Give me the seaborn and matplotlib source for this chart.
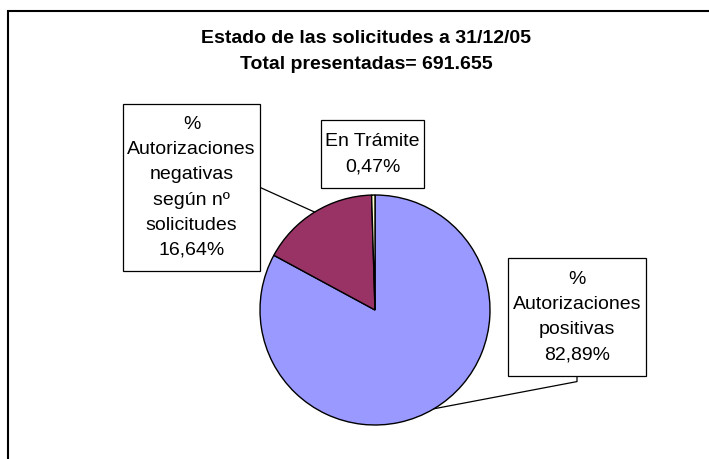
import numpy as np
import seaborn as sns
import matplotlib.pyplot as plt
from matplotlib.patches import Rectangle

# data
categories = ['%\nAutorizaciones\npositivas', '%\nAutorizaciones\nnegativas\nsegún nº\nsolicitudes', 'En Trámite']
shares = [82.89, 16.64, 0.47]
colors = ['#9999FF', '#993366', '#FFFFCC']
title = 'Estado de las solicitudes a 31/12/05\nTotal presentadas= 691.655'

sns.set_theme(style='white')
plt.rcParams['font.family'] = ['Liberation Sans', 'DejaVu Sans']

W, H = 709, 459
fig = plt.figure(figsize=(W / 100, H / 100), dpi=100)
fig.patch.set_facecolor('white')

# pie centre (375, 310) px, radius 115 px
cx, cy, r = 375, 310, 115
ax = fig.add_axes([(cx - r) / W, (H - cy - r) / H, 2 * r / W, 2 * r / H])
wedges, _ = ax.pie(shares, colors=colors, startangle=90, counterclock=False,
                   wedgeprops=dict(edgecolor='black', linewidth=1))
ax.set_xlim(-1, 1)
ax.set_ylim(-1, 1)
ax.set_aspect('equal')
ax.axis('off')

fig.text(366 / W, 1 - 51.5 / H, title, ha='center', va='center', fontsize=14,
         fontweight='bold', linespacing=1.73, color='black')

def px(x, y):
    # pixel position in the picture -> pie units
    return (x - cx) / r, (cy - y) / r

# box centre in px, leader start on the box (relpos), leader on/off
boxes = [((577, 317), (0.5, 0.0), True),
         ((191.5, 187.5), (1.0, 0.5), True),
         ((372.5, 154), (0.5, 0.0), False)]

texts = []
for cat, val, (c, rel, leader) in zip(categories, shares, boxes):
    label = cat + '\n' + f'{val:.2f}'.replace('.', ',') + '%'
    t = ax.text(*px(*c), label, ha='center', va='center', fontsize=14,
                linespacing=1.62, color='black', zorder=5, clip_on=False)
    texts.append(t)

fig.canvas.draw()
rend = fig.canvas.get_renderer()
inv = ax.transData.inverted()
padx, pady = 4.5, 12.5
for w, t, (c, rel, leader) in zip(wedges, texts, boxes):
    bb = t.get_window_extent(rend)
    x0, y0 = inv.transform((bb.x0 - padx, bb.y0 - pady))
    x1, y1 = inv.transform((bb.x1 + padx, bb.y1 + pady))
    ax.add_patch(Rectangle((x0, y0), x1 - x0, y1 - y0, fc='white', ec='black',
                           lw=0.9, zorder=4, clip_on=False))
    if leader:
        ang = np.deg2rad((w.theta1 + w.theta2) / 2)
        sx, sy = x0 + rel[0] * (x1 - x0), y0 + rel[1] * (y1 - y0)
        xs, ys = [sx], [sy]
        if rel[1] == 0.0:
            xs.append(sx)
            ys.append(sy - 6 / r)
        xs.append(np.cos(ang))
        ys.append(np.sin(ang))
        ax.plot(xs, ys, color='black', lw=0.9, zorder=3, clip_on=False)

# outer chart frame (right and bottom edges fall outside the picture)
fig.add_artist(Rectangle((8 / W, -0.2), 1.2, 1.2 - 11 / H, transform=fig.transFigure,
                         fill=False, ec='black', lw=1.5))

fig.savefig('out.png', dpi=100)
